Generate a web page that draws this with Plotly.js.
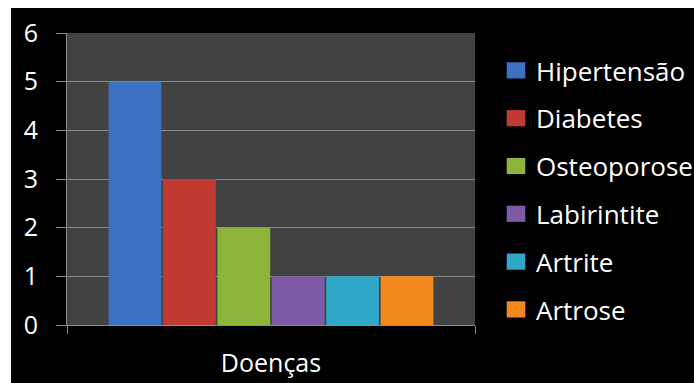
<!DOCTYPE html>
<html>
<head>
<meta charset="utf-8">
<script src="https://cdn.plot.ly/plotly-3.0.1.min.js"></script>
<style>
  html, body { margin: 0; padding: 0; background: #ffffff; }
  #wrap { position: absolute; left: 0; top: 0; width: 694px; height: 383px; background: #ffffff; }
  #chart { position: absolute; left: 11px; top: 8px; width: 683px; height: 375px; }
</style>
</head>
<body>
<div id="wrap"><div id="chart"></div></div>
<script>
const categories = ["Doenças"];
const seriesNames = ["Hipertensão", "Diabetes", "Osteoporose", "Labirintite", "Artrite", "Artrose"];
const seriesValues = [[5], [3], [2], [1], [1], [1]];
const seriesColors = ["#3a71c0", "#c03a33", "#8db43b", "#7c5aa5", "#2fa7c7", "#f2891f"];
const yTicks = [0, 1, 2, 3, 4, 5, 6];

const FONT = "Open Sans, Noto Sans, sans-serif";

const traces = seriesNames.map((name, i) => ({
  type: "bar",
  name: name,
  x: categories,
  y: seriesValues[i],
  legendgroup: "g" + i,
  marker: { color: seriesColors[i], line: { width: 0 } },
  hoverinfo: "none"
}));

const layout = {
  width: 683,
  height: 375,
  paper_bgcolor: "#000000",
  plot_bgcolor: "#424242",
  margin: { l: 56, r: 219, t: 25, b: 58, pad: 0, autoexpand: false },
  barmode: "group",
  bargap: 0.2,
  bargroupgap: 0.03,
  font: { family: FONT, color: "#ffffff", size: 24 },
  showlegend: true,
  legend: {
    xref: "container", yref: "container",
    x: 0.7101, xanchor: "left",
    y: 0.896, yanchor: "top",
    traceorder: "grouped",
    tracegroupgap: 11,
    maxheight: 370,
    bgcolor: "rgba(0,0,0,0)",
    borderwidth: 0,
    font: { family: FONT, color: "#ffffff", size: 26 },
    itemwidth: 30
  },
  xaxis: {
    type: "category",
    showgrid: false,
    showline: true,
    linecolor: "#8c8c8c",
    linewidth: 1,
    ticks: "outside",
    tickson: "boundaries",
    ticklen: 8,
    tickcolor: "#8c8c8c",
    tickfont: { family: FONT, color: "#ffffff", size: 25 },
    ticklabelstandoff: 16,
    fixedrange: true
  },
  yaxis: {
    range: [0, 6],
    tickvals: yTicks,
    ticktext: yTicks.map(String),
    showgrid: true,
    gridcolor: "#8c8c8c",
    gridwidth: 1,
    zeroline: false,
    showline: true,
    linecolor: "#8c8c8c",
    linewidth: 1,
    ticks: "outside",
    ticklen: 10,
    tickcolor: "#8c8c8c",
    tickfont: { family: FONT, color: "#ffffff", size: 25 },
    ticklabelstandoff: 13,
    fixedrange: true
  }
};

Plotly.newPlot("chart", traces, layout, { staticPlot: true, displayModeBar: false }).then(gd => {
  // enlarge legend swatches to look like the original square keys
  gd.querySelectorAll(".legendpoints path").forEach(p => {
    const t = p.getAttribute("transform") || "";
    p.setAttribute("transform", t + " scale(1.55,1.35)");
  });
});
</script>
</body>
</html>
